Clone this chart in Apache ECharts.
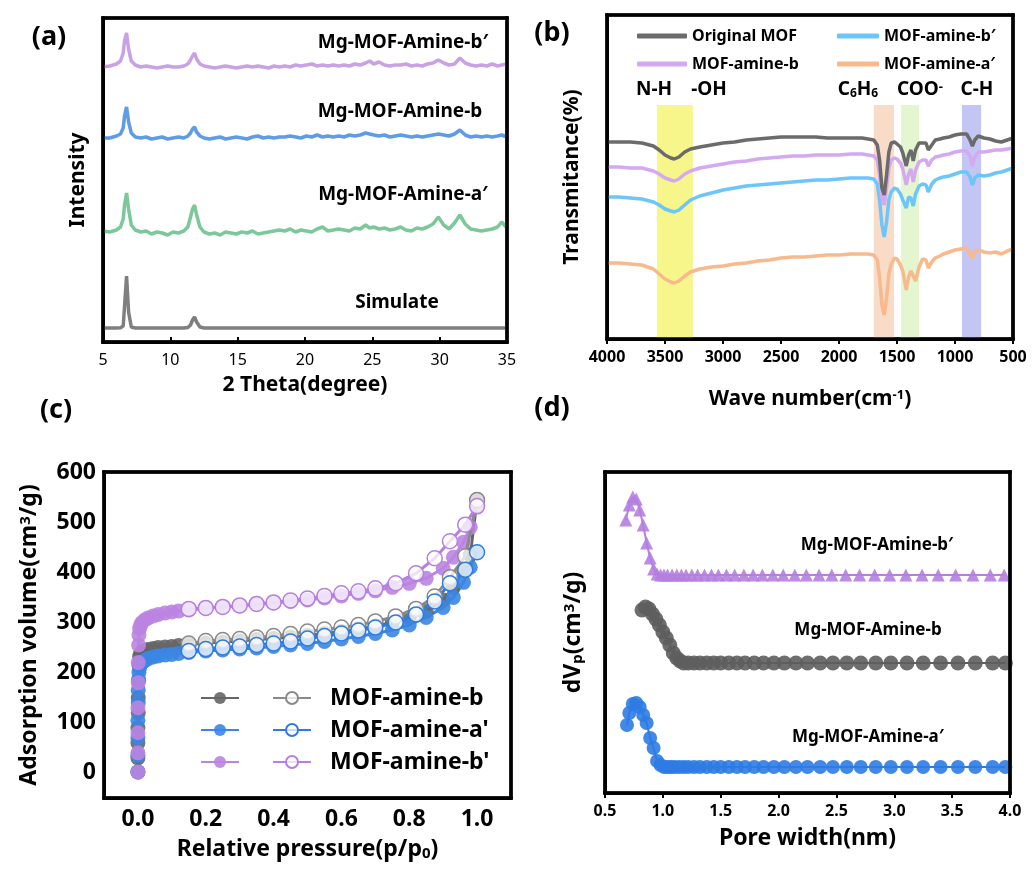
<!DOCTYPE html>
<html>
<head>
<meta charset="utf-8">
<script src="https://cdn.jsdelivr.net/npm/echarts@6/dist/echarts.min.js"></script>
<style>
  html, body { margin: 0; padding: 0; background: #fff; }
  #chart { width: 1032px; height: 869px; }
</style>
</head>
<body>
<div id="chart"></div>
<script>
const FONT = '"Noto Sans", "Open Sans", sans-serif';

// (a) XRD patterns
const twoTheta = [5, 5.5, 6, 6.3, 6.5, 6.6, 6.75, 6.9, 7.1, 7.4,
  7.8, 8.2, 8.6, 9, 9.4, 9.8, 10.2, 10.6, 11, 11.3,
  11.5, 11.65, 11.8, 11.95, 12.2, 12.5, 12.9, 13.3, 13.7, 14.1,
  14.5, 14.9, 15.3, 15.7, 16.1, 16.5, 16.9, 17.3, 17.7, 18.1,
  18.5, 18.9, 19.3, 19.7, 20.1, 20.5, 20.9, 21.3, 21.7, 22.1,
  22.5, 22.9, 23.3, 23.7, 24.1, 24.5, 24.8, 25.1, 25.5, 25.9,
  26.3, 26.7, 27.1, 27.5, 27.9, 28.3, 28.7, 29.1, 29.5, 29.9,
  30.3, 30.7, 31.1, 31.5, 31.9, 32.3, 32.7, 33.1, 33.5, 33.9,
  34.3, 34.6, 35];
const xrdSimulate = [0, 0, 0, 0.3, 2, 22, 52, 16, 1, 0,
  0, 0, 0, 0, 0, 0, 0, 0, 0, 0.5,
  3, 8, 11, 6, 1, 0, 0, 0, 0, 0,
  0, 0, 0, 0, 0, 0, 0, 0, 0, 0,
  0, 0, 0, 0, 0, 0, 0, 0, 0, 0,
  0, 0, 0, 0, 0, 0, 0, 0, 0, 0,
  0, 0, 0, 0, 0, 0, 0, 0, 0, 0,
  0, 0, 0, 0, 0, 0, 0, 0, 0, 0,
  0, 0, 0];
const xrdAmineA1 = [2, 1, 3, 6, 14, 28, 40, 24, 8, 3,
  1, 2, -1, 1, 0, -2, 1, 0, 2, 6,
  16, 24, 28, 18, 6, 1, -1, 0, -2, 1,
  0, -1, 1, 0, 2, -1, 0, 1, 2, 3,
  2, 4, 1, 3, 2, 1, 4, 6, 2, 3,
  4, 3, 2, 5, 4, 8, 5, 6, 4, 5,
  3, 4, 6, 3, 2, 5, 4, 6, 9, 16,
  8, 4, 10, 18, 9, 4, 3, 2, 3, 4,
  6, 11, 5];
const xrdAmineB = [0, 0, 2, 4, 10, 22, 31, 16, 5, 1,
  0, 1, -1, 0, 1, -1, 0, 1, 0, 2,
  5, 9, 11, 6, 2, 0, -1, 0, 1, -1,
  0, 1, 0, -1, 1, 2, 0, 1, 0, 1,
  1, 2, 1, 0, 2, 1, 3, 1, 2, 1,
  2, 1, 3, 2, 3, 5, 4, 3, 2, 3,
  1, 2, 3, 2, 1, 2, 1, 2, 3, 4,
  3, 2, 4, 8, 3, 1, 2, 1, 2, 1,
  2, 3, 1];
const xrdAmineB1 = [0, 1, 3, 6, 14, 26, 34, 18, 6, 2,
  0, 1, 0, -1, 0, 1, 0, 0, 1, 3,
  7, 11, 14, 8, 3, 1, 0, -1, 0, 1,
  0, -1, 0, 1, 0, 1, 0, -1, 1, 0,
  1, 0, 2, 1, 2, 3, 1, 2, 1, 2,
  1, 2, 1, 3, 2, 4, 6, 3, 5, 2,
  1, 2, 2, 3, 1, 2, 1, 3, 4, 7,
  4, 2, 3, 9, 4, 2, 1, 2, 1, 3,
  1, 2, 3];

// (b) FTIR spectra
const wavenumber = [4000, 3900, 3800, 3700, 3600, 3550, 3500, 3450, 3420, 3380,
  3330, 3280, 3200, 3100, 3000, 2900, 2800, 2700, 2600, 2500,
  2400, 2300, 2200, 2100, 2000, 1900, 1800, 1750, 1700, 1670,
  1650, 1630, 1610, 1590, 1570, 1550, 1520, 1500, 1470, 1450,
  1420, 1400, 1380, 1360, 1340, 1310, 1280, 1250, 1230, 1200,
  1170, 1130, 1100, 1050, 1000, 950, 900, 870, 850, 830,
  800, 750, 700, 650, 600, 550, 500];
const ftirOriginal = [197, 197, 197, 196, 193, 189, 184, 181, 180, 182,
  187, 190, 192, 194, 196, 197, 199, 200, 201, 202,
  202, 202, 202, 201, 201, 201, 201, 200, 199, 194,
  179, 151, 144, 164, 187, 196, 197, 195, 192, 186,
  173, 184, 189, 178, 189, 196, 196, 196, 189, 194,
  199, 200, 201, 202, 204, 205, 205, 199, 193, 199,
  203, 201, 200, 198, 197, 199, 201];
const ftirAmineB = [172, 172, 171, 171, 168, 165, 161, 159, 158, 160,
  165, 168, 171, 173, 175, 177, 178, 180, 181, 182,
  183, 183, 184, 184, 184, 185, 185, 184, 183, 179,
  164, 141, 134, 151, 171, 179, 181, 180, 176, 170,
  154, 165, 170, 157, 169, 177, 179, 179, 173, 179,
  182, 183, 184, 185, 187, 188, 188, 183, 173, 182,
  187, 187, 188, 189, 189, 190, 191];
const ftirAmineB1 = [142, 142, 141, 140, 137, 134, 130, 128, 127, 129,
  134, 139, 143, 146, 149, 151, 153, 154, 155, 156,
  157, 158, 159, 159, 160, 161, 161, 161, 160, 155,
  139, 114, 102, 117, 139, 147, 151, 150, 145, 139,
  131, 142, 141, 133, 145, 153, 155, 154, 147, 155,
  159, 161, 162, 163, 165, 167, 167, 162, 154, 161,
  164, 163, 164, 166, 167, 169, 171];
const ftirAmineA1 = [76, 76, 75, 74, 70, 65, 60, 57, 56, 58,
  63, 67, 70, 72, 73, 75, 76, 78, 79, 81,
  82, 82, 83, 84, 84, 85, 85, 85, 84, 79,
  61, 34, 24, 41, 65, 75, 81, 80, 74, 68,
  49, 62, 68, 63, 58, 72, 80, 79, 71, 77,
  81, 83, 85, 87, 89, 90, 91, 85, 81, 87,
  89, 87, 86, 87, 85, 88, 90];
const bandFrom = [3570, 1700, 1465, 940];
const bandTo = [3260, 1525, 1310, 775];

// (c) N2 isotherms
const pAds = [0, 0, 0, 0, 0.001, 0.001, 0.002, 0.003, 0.005, 0.008,
  0.012, 0.02, 0.03, 0.045, 0.06, 0.08, 0.1, 0.12, 0.15, 0.2,
  0.25, 0.3, 0.35, 0.4, 0.45, 0.5, 0.55, 0.6, 0.65, 0.7,
  0.75, 0.8, 0.85, 0.9, 0.93, 0.96, 0.98, 1.0];
const vAdsB = [2, 30, 60, 90, 120, 150, 185, 215, 232, 238,
  241, 244, 246, 248, 250, 251, 252, 254, 256, 259,
  261, 263, 266, 268, 271, 274, 278, 282, 287, 293,
  300, 310, 322, 345, 370, 405, 435, 545];
const vAdsA1 = [2, 35, 70, 105, 140, 165, 185, 200, 210, 216,
  220, 224, 228, 231, 233, 235, 236, 238, 240, 243,
  245, 247, 249, 252, 255, 258, 262, 267, 272, 278,
  285, 295, 310, 330, 350, 380, 410, 440];
const vAdsB1 = [2, 40, 80, 130, 180, 220, 255, 275, 288, 295,
  300, 305, 309, 313, 316, 319, 321, 323, 325, 328,
  331, 333, 336, 339, 342, 345, 349, 353, 358, 363,
  370, 378, 388, 408, 430, 460, 490, 530];
const pDes = [0.15, 0.2, 0.25, 0.3, 0.35, 0.4, 0.45, 0.5, 0.55, 0.6,
  0.65, 0.7, 0.76, 0.82, 0.875, 0.92, 0.965, 1.0];
const vDesB = [258, 263, 265, 267, 270, 273, 277, 282, 286, 290,
  295, 302, 312, 327, 352, 390, 432, 544];
const vDesA1 = [243, 247, 250, 252, 255, 258, 262, 268, 273, 278,
  284, 290, 300, 316, 342, 378, 405, 440];
const vDesB1 = [327, 329, 331, 334, 337, 340, 344, 348, 353, 358,
  362, 368, 378, 398, 428, 462, 495, 532];

// (d) pore size distribution
const poreB1 = [0.68, 0.71, 0.74, 0.77, 0.80, 0.83, 0.86, 0.89, 0.92, 0.95,
  0.98, 1.01, 1.04, 1.08, 1.12, 1.16, 1.2, 1.25, 1.3, 1.36,
  1.42, 1.48, 1.55, 1.62, 1.7, 1.78, 1.86, 1.95, 2.04, 2.14,
  2.24, 2.35, 2.46, 2.58, 2.7, 2.83, 2.96, 3.1, 3.24, 3.38,
  3.53, 3.68, 3.83, 3.95];
const dvB1 = [273, 288, 296, 294, 283, 268, 250, 235, 224, 219,
  218, 218, 218, 218, 218, 218, 218, 218, 218, 218,
  218, 218, 218, 218, 218, 218, 218, 218, 218, 218,
  218, 218, 218, 218, 218, 218, 218, 218, 218, 218,
  218, 218, 218, 218];
const poreB = [0.82, 0.85, 0.88, 0.91, 0.94, 0.97, 1.0, 1.03, 1.06, 1.09,
  1.12, 1.15, 1.18, 1.22, 1.27, 1.32, 1.38, 1.44, 1.5, 1.57,
  1.64, 1.71, 1.79, 1.87, 1.96, 2.05, 2.15, 2.25, 2.36, 2.47,
  2.59, 2.71, 2.84, 2.97, 3.11, 3.25, 3.4, 3.55, 3.7, 3.85,
  3.96];
const dvB = [183, 186, 184, 179, 174, 168, 161, 155, 148, 140,
  135, 132, 130, 130, 130, 130, 130, 130, 130, 130,
  130, 130, 130, 130, 130, 130, 130, 130, 130, 130,
  130, 130, 130, 130, 130, 130, 130, 130, 130, 130,
  130];
const poreA1 = [0.69, 0.71, 0.74, 0.77, 0.80, 0.83, 0.86, 0.89, 0.92, 0.95,
  0.98, 1.01, 1.04, 1.07, 1.1, 1.14, 1.18, 1.22, 1.27, 1.32,
  1.38, 1.44, 1.5, 1.57, 1.64, 1.71, 1.79, 1.87, 1.96, 2.05,
  2.15, 2.25, 2.36, 2.47, 2.59, 2.71, 2.84, 2.97, 3.11, 3.25,
  3.4, 3.55, 3.7, 3.85, 3.96];
const dvA1 = [68, 80, 89, 90, 86, 78, 70, 55, 45, 32,
  28, 26, 26, 26, 26, 26, 26, 26, 26, 26,
  26, 26, 26, 26, 26, 26, 26, 26, 26, 26,
  26, 26, 26, 26, 26, 26, 26, 26, 26, 26,
  26, 26, 26, 26, 26];

// axis extents of the four plots: [xmin, xmax, ymin, ymax]
const extents = [[5, 35, 0, 324], [500, 4000, 0, 324], [-0.1, 1.1, -50, 600], [0.5, 4, 0, 321]];

const zip = (xs, ys, off) => xs.map((x, i) => [x, ys[i] + (off || 0)]);

const chart = echarts.init(document.getElementById('chart'));

const boxGrid = (left, top, width, height) => ({
  left, top, width, height, show: true, borderColor: '#000', borderWidth: 3
});

const sup = { fontSize: 13, fontWeight: 'bold', fontFamily: FONT, verticalAlign: 'top' };
const sub = { fontSize: 13, fontWeight: 'bold', fontFamily: FONT, verticalAlign: 'bottom' };

function ax(grid, o) {
  return Object.assign({
    gridIndex: grid, type: 'value', nameLocation: 'middle',
    splitLine: { show: false },
    axisLine: { show: true, onZero: false, lineStyle: { color: '#000', width: 3 } },
    axisTick: { show: true, inside: false, length: 5, lineStyle: { color: '#000', width: 2 } },
    axisLabel: { color: '#000', fontFamily: FONT, fontSize: 16, fontWeight: 'bold', margin: 10 },
    nameTextStyle: { color: '#000', fontFamily: FONT, fontSize: 21, fontWeight: 'bold' }
  }, o);
}
const noTick = { show: false };

const xrdLine = (name, ys, off, color) => ({
  name, type: 'line', xAxisIndex: 0, yAxisIndex: 0, data: zip(twoTheta, ys, off),
  symbol: 'none', lineStyle: { color, width: 3.5 }, itemStyle: { color }
});
const ftirLine = (name, ys, color) => ({
  name, type: 'line', xAxisIndex: 1, yAxisIndex: 1, data: zip(wavenumber, ys),
  symbol: 'none', z: 3, lineStyle: { color, width: 3.5 }, itemStyle: { color }
});
const isoLine = (name, xs, ys, color, open) => ({
  name, type: 'line', xAxisIndex: 2, yAxisIndex: 2, data: zip(xs, ys),
  symbol: 'circle', symbolSize: 15, z: open ? 4 : 3,
  lineStyle: { color, width: 3 },
  itemStyle: open
    ? { color: 'rgba(255,255,255,0.75)', borderColor: color, borderWidth: 1.5 }
    : { color, opacity: 0.9 }
});
const psdLine = (name, xs, ys, color, symbol, size) => ({
  name, type: 'line', xAxisIndex: 3, yAxisIndex: 3, data: zip(xs, ys),
  symbol, symbolSize: size, lineStyle: { color, width: 2 }, itemStyle: { color, opacity: 0.9 }
});

// plot frame: four filled strips placed through the axes' own scales
const frameStrips = (a, b, t) => {
  const x0 = Math.min(a[0], b[0]), x1 = Math.max(a[0], b[0]);
  const y0 = Math.min(a[1], b[1]), y1 = Math.max(a[1], b[1]);
  const h = t / 2;
  return [
    { x: x0 - h, y: y0 - h, width: x1 - x0 + t, height: t },
    { x: x0 - h, y: y1 - h, width: x1 - x0 + t, height: t },
    { x: x0 - h, y: y0 - h, width: t, height: y1 - y0 + t },
    { x: x1 - h, y: y0 - h, width: t, height: y1 - y0 + t }
  ];
};
const frameSeries = i => ({
  name: 'frame' + i, type: 'custom', xAxisIndex: i, yAxisIndex: i, silent: true, z: 20, clip: false,
  data: [[extents[i][0], extents[i][2]]],
  renderItem: (params, api) => {
    const e = extents[i];
    const shapes = frameStrips(api.coord([e[0], e[2]]), api.coord([e[1], e[3]]), 3);
    return { type: 'group', children: shapes.map(s => ({ type: 'rect', shape: s, style: { fill: '#000' } })) };
  }
});

const bandColors = ['#f6f68a', '#f8dcc8', '#e4f6d0', '#c3c6f4'];

const letter = (t, x, y) => ({
  type: 'text', x, y, style: { text: t, fontSize: 27, fontWeight: 'bold', fontFamily: FONT,
    fill: '#000', align: 'center', verticalAlign: 'middle' }
});
const label = (t, x, y, size, rich) => {
  const style = { text: t, fontSize: size, fontWeight: 'bold', fontFamily: FONT,
    fill: '#000', align: 'center', verticalAlign: 'middle' };
  if (rich) style.rich = rich;
  return { type: 'text', x, y, z: 100, style };
};

const isoNames = { 'b des': 'MOF-amine-b', 'a des': "MOF-amine-a'", 'bp des': "MOF-amine-b'" };
const ftirLegendText = { fontSize: 16, fontWeight: 'bold', color: '#000', fontFamily: FONT };

const labels = [
  letter('(a)', 49, 37), letter('(b)', 552, 33), letter('(c)', 56, 410), letter('(d)', 552, 408),
  label('Mg-MOF-Amine-b′', 403, 43, 19),
  label('Mg-MOF-Amine-b', 400, 112, 19),
  label('Mg-MOF-Amine-a′', 403, 195, 19),
  label('Simulate', 397, 303, 19),
  label('N-H', 654, 90, 19),
  label('-OH', 709, 90, 19),
  label('C{s|6}H{s|6}', 858, 90, 19, { s: { fontSize: 12, fontWeight: 'bold', fontFamily: FONT, verticalAlign: 'bottom' } }),
  label('COO{s|-}', 920, 90, 19, { s: { fontSize: 13, fontWeight: 'bold', fontFamily: FONT, verticalAlign: 'top' } }),
  label('C-H', 977, 90, 19),
  label('Mg-MOF-Amine-b′', 877, 545, 17),
  label('Mg-MOF-Amine-b', 868, 630, 17),
  label('Mg-MOF-Amine-a′', 868, 737, 17)
];

const option = {
  animation: false,
  grid: [
    boxGrid(103, 18, 404, 324),
    boxGrid(607, 15, 406, 324),
    boxGrid(104, 472, 407, 326),
    boxGrid(605, 472, 405, 321)
  ],
  xAxis: [
    ax(0, { min: extents[0][0], max: extents[0][1], interval: 5, name: '2 Theta(degree)', nameGap: 33,
      axisTick: { show: true, inside: true, length: 5, lineStyle: { color: '#000', width: 2 } },
      axisLabel: { color: '#000', fontFamily: FONT, fontSize: 16, margin: 10 } }),
    ax(1, { min: extents[1][0], max: extents[1][1], interval: 500, inverse: true, nameGap: 50,
      name: 'Wave number(cm{sup|-1})',
      axisLabel: { color: '#000', fontFamily: FONT, fontSize: 16, fontWeight: 'bold', margin: 10,
        formatter: v => String(v) },
      nameTextStyle: { color: '#000', fontFamily: FONT, fontSize: 21, fontWeight: 'bold', rich: { sup } } }),
    ax(2, { min: extents[2][0], max: extents[2][1], name: 'Relative pressure(p/p{sub|0})', nameGap: 40,
      axisTick: noTick,
      axisLabel: { color: '#000', fontFamily: FONT, fontSize: 23, fontWeight: 'bold', margin: 10,
        customValues: [0, 0.2, 0.4, 0.6, 0.8, 1.0], formatter: v => v.toFixed(1) },
      nameTextStyle: { color: '#000', fontFamily: FONT, fontSize: 23, fontWeight: 'bold',
        rich: { sub: Object.assign({}, sub, { fontSize: 15 }) } } }),
    ax(3, { min: extents[3][0], max: extents[3][1], interval: 0.5, name: 'Pore width(nm)', nameGap: 34,
      axisLabel: { color: '#000', fontFamily: FONT, fontSize: 16, fontWeight: 'bold', margin: 10,
        formatter: v => v.toFixed(1) },
      nameTextStyle: { color: '#000', fontFamily: FONT, fontSize: 23, fontWeight: 'bold' } })
  ],
  yAxis: [
    ax(0, { min: extents[0][2], max: extents[0][3], name: 'Intensity', nameGap: 14,
      axisTick: noTick, axisLabel: { show: false } }),
    ax(1, { min: extents[1][2], max: extents[1][3], name: 'Transmitance(%)', nameGap: 24,
      axisTick: noTick, axisLabel: { show: false } }),
    ax(2, { min: extents[2][2], max: extents[2][3], name: 'Adsorption volume(cm{sup|3}/g)', nameGap: 63,
      axisTick: noTick,
      axisLabel: { color: '#000', fontFamily: FONT, fontSize: 23, fontWeight: 'bold', margin: 8,
        customValues: [0, 100, 200, 300, 400, 500, 600] },
      nameTextStyle: { color: '#000', fontFamily: FONT, fontSize: 23, fontWeight: 'bold',
        rich: { sup: Object.assign({}, sup, { fontSize: 15 }) } } }),
    ax(3, { min: extents[3][2], max: extents[3][3], name: 'dV{sub|p}(cm{sup|3}/g)', nameGap: 20,
      axisTick: noTick, axisLabel: { show: false },
      nameTextStyle: { color: '#000', fontFamily: FONT, fontSize: 23, fontWeight: 'bold',
        rich: { sup: Object.assign({}, sup, { fontSize: 15 }), sub: Object.assign({}, sub, { fontSize: 15 }) } } })
  ],
  legend: [
    { data: ['Original MOF', 'MOF-amine-b'], orient: 'vertical', left: 632, top: 23,
      icon: 'roundRect', itemWidth: 50, itemHeight: 5, itemGap: 12, selectedMode: false,
      textStyle: ftirLegendText },
    { data: ['MOF-amine-b′', 'MOF-amine-a′'], orient: 'vertical', left: 832, top: 23,
      icon: 'roundRect', itemWidth: 42, itemHeight: 5, itemGap: 12, selectedMode: false,
      textStyle: ftirLegendText },
    { data: ['b ads', 'a ads', 'bp ads'], orient: 'vertical', left: 195, top: 681,
      itemWidth: 38, itemHeight: 15, itemGap: 8, selectedMode: false, formatter: () => ' ',
      textStyle: { fontSize: 22, lineHeight: 24, fontWeight: 'bold', color: '#000', fontFamily: FONT } },
    { data: ['b des', 'a des', 'bp des'], orient: 'vertical', left: 267, top: 681,
      itemWidth: 38, itemHeight: 15, itemGap: 8, selectedMode: false, formatter: n => isoNames[n],
      textStyle: { fontSize: 23, lineHeight: 24, fontWeight: 'bold', color: '#000', fontFamily: FONT,
        padding: [0, 0, 0, 14] } }
  ],
  graphic: labels,
  series: [
    xrdLine('Simulate', xrdSimulate, 14, '#7f7f7f'),
    xrdLine('Mg-MOF-Amine-a′', xrdAmineA1, 109, '#7cc89a'),
    xrdLine('Mg-MOF-Amine-b', xrdAmineB, 204, '#5f9ce8'),
    xrdLine('Mg-MOF-Amine-b′', xrdAmineB1, 275, '#c9a2e6'),
    Object.assign(ftirLine('MOF-amine-a′', ftirAmineA1, '#f8b98c'), {
      markArea: {
        silent: true,
        data: bandFrom.map((f, i) => [
          { xAxis: f, yAxis: 0, itemStyle: { color: bandColors[i] } },
          { xAxis: bandTo[i], yAxis: 234 }
        ])
      }
    }),
    ftirLine('MOF-amine-b′', ftirAmineB1, '#6cc6fa'),
    ftirLine('MOF-amine-b', ftirAmineB, '#d4a9f2'),
    ftirLine('Original MOF', ftirOriginal, '#6b6b6b'),
    isoLine('b ads', pAds, vAdsB, '#666666', false),
    isoLine('a ads', pAds, vAdsA1, '#3b86e4', false),
    isoLine('bp ads', pAds, vAdsB1, '#bb84e2', false),
    isoLine('b des', pDes, vDesB, '#8a8a8a', true),
    isoLine('a des', pDes, vDesA1, '#2f7be0', true),
    isoLine('bp des', pDes, vDesB1, '#b67fe0', true),
    psdLine('psd b1', poreB1, dvB1, '#b57ee0', 'triangle', 13),
    psdLine('psd b', poreB, dvB, '#5e5e5e', 'circle', 15),
    psdLine('psd a1', poreA1, dvA1, '#2e7be3', 'circle', 14),
    frameSeries(0), frameSeries(1), frameSeries(2), frameSeries(3)
  ]
};

chart.setOption(option);

// the same frame once more as filled graphic strips, in case the series layer drops it
const stripGraphics = [];
extents.forEach((e, i) => {
  const a = chart.convertToPixel({ xAxisIndex: i, yAxisIndex: i }, [e[0], e[2]]);
  const b = chart.convertToPixel({ xAxisIndex: i, yAxisIndex: i }, [e[1], e[3]]);
  if (!a || !b) return;
  frameStrips(a, b, 3).forEach(s => stripGraphics.push({
    type: 'rect', silent: true, z: 60, shape: s, style: { fill: '#000' }
  }));
});
chart.setOption({ graphic: labels.concat(stripGraphics) });
</script>
</body>
</html>
